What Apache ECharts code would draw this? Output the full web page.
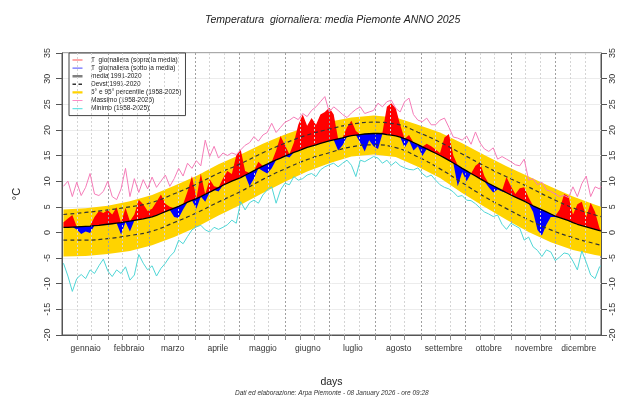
<!DOCTYPE html>
<html>
<head>
<meta charset="utf-8">
<script src="https://cdn.jsdelivr.net/npm/echarts@6/dist/echarts.min.js"></script>
<style>html,body{margin:0;padding:0;background:#fff}#chart{width:640px;height:400px}</style>
</head>
<body>
<div id="chart"></div>
<script>
var mesi = ["gennaio","febbraio","marzo","aprile","maggio","giugno","luglio","agosto","settembre","ottobre","novembre","dicembre"];
var metaMese = [16,45.5,75,105.5,136,166.5,197,228,258.5,289,319.5,350];
var fineMese = [31,59,90,120,151,181,212,243,273,304,334];
var decadi = [10,20,41,51,69,79,100,110,130,140,161,171,191,201,222,232,253,263,283,293,314,324,344,354];

// giorni campionati ogni 3 giorni
var giorni = [];
for (var d = 1; d <= 364; d += 3) giorni.push(d);
giorni.push(365);

var media = [
  1.0,1.0,1.05,1.1,1.15,1.2,1.25,1.35,1.4,1.5,
  1.6,1.7,1.8,1.9,2.05,2.2,2.35,2.5,2.65,2.85,
  3.05,3.35,3.7,4.05,4.4,4.75,5.1,5.5,5.9,6.25,
  6.6,7.0,7.45,7.85,8.3,8.75,9.2,9.6,10.0,10.35,
  10.7,11.15,11.6,12.05,12.5,12.95,13.35,13.75,14.15,14.5,
  14.9,15.25,15.6,15.9,16.25,16.6,16.85,17.1,17.35,17.6,
  17.85,18.05,18.25,18.45,18.7,18.9,19.0,19.1,19.2,19.25,
  19.3,19.3,19.25,19.1,19.0,18.85,18.6,18.3,17.95,17.55,
  17.15,16.7,16.3,15.85,15.45,15.0,14.55,14.05,13.55,13.05,
  12.5,12.0,11.5,11.0,10.5,10.0,9.55,9.1,8.65,8.2,
  7.75,7.3,6.9,6.5,6.1,5.65,5.2,4.8,4.4,4.0,
  3.6,3.2,2.9,2.6,2.3,1.9,1.6,1.35,1.1,0.85,
  0.6,0.35,0.3
];

var tGiorno = [
  2.0,2.7,3.4,0.6,-0.3,0.2,-0.1,3.0,4.2,3.8,
  4.4,3.5,4.9,-0.4,4.8,0.2,3.5,6.4,5.5,4.2,
  4.6,6.0,7.4,5.6,5.0,3.0,2.8,4.5,8.0,11.0,
  4.6,11.5,6.0,10.4,9.0,8.0,10.5,12.0,11.4,15.0,
  16.2,12.0,9.0,10.5,13.8,12.0,11.5,12.5,16.0,18.8,
  17.0,14.6,17.5,21.0,23.0,20.8,22.3,21.0,23.0,23.5,
  24.3,23.0,16.0,17.0,20.5,21.8,19.8,17.5,15.8,18.0,
  16.8,16.3,19.5,24.5,25.2,24.2,21.0,16.5,19.0,16.0,
  16.8,14.9,17.3,16.8,16.2,15.5,18.5,19.2,15.0,9.0,
  11.8,10.0,11.5,13.0,13.7,11.0,8.8,7.8,8.4,8.0,
  10.8,9.0,7.5,8.6,8.8,6.8,4.0,0.5,-0.6,1.5,
  3.0,3.0,4.5,7.5,7.0,3.5,5.5,6.0,3.0,5.8,
  4.0,0.8,0.4
];

var massimo = [
  9.0,10.0,7.0,9.8,7.2,8.8,11.5,7.5,7.2,8.0,
  10.0,7.0,6.4,8.5,12.5,7.0,10.5,7.8,10.3,8.5,
  10.8,8.8,10.0,11.2,9.0,10.5,12.5,11.0,13.5,12.5,
  14.0,13.0,18.0,14.8,16.8,14.5,15.5,15.0,15.5,15.2,
  16.1,17.0,17.5,18.7,17.8,19.0,19.5,21.3,19.5,20.5,
  21.5,21.9,22.5,22.0,23.2,22.6,23.8,24.5,25.5,26.5,
  23.5,24.5,23.8,23.0,22.4,23.3,24.0,24.5,23.2,23.5,
  23.8,25.2,24.5,25.5,25.8,24.2,23.5,25.5,26.2,23.0,
  21.9,21.6,22.3,21.0,21.0,21.9,22.3,20.5,18.6,18.4,
  18.0,18.8,17.2,19.6,17.5,16.3,15.8,16.5,14.3,14.8,
  14.3,13.8,13.2,13.0,14.3,10.2,10.5,9.3,9.8,8.3,
  8.0,7.5,7.0,7.2,6.8,8.9,7.0,9.5,11.0,7.0,
  8.9,8.5,9.0
];

var minimo = [
  -6.0,-8.5,-11.5,-9.0,-8.2,-9.0,-7.3,-8.0,-6.5,-5.2,
  -7.5,-8.6,-7.3,-8.0,-6.7,-9.3,-8.3,-4.3,-6.0,-7.3,
  -6.5,-8.5,-7.0,-6.0,-4.7,-3.8,-1.5,-2.2,-0.8,0.5,
  1.1,1.4,0.5,0.1,1.0,0.6,1.0,1.5,2.4,1.8,
  6.0,4.4,5.8,6.3,5.7,7.3,8.3,8.9,5.7,8.3,
  9.6,9.3,10.9,10.2,10.5,11.2,11.5,10.9,12.2,12.8,
  13.2,13.5,12.8,13.5,14.1,13.1,10.9,14.1,13.8,14.3,
  14.8,14.5,13.5,14.1,13.1,13.8,13.0,12.6,12.3,12.2,
  12.6,11.5,10.8,11.2,10.2,9.3,8.8,8.5,7.9,7.0,
  7.2,6.3,6.2,5.6,4.8,4.0,3.6,3.1,3.4,1.6,
  0.6,1.8,1.3,0.8,-1.5,-0.9,-2.8,-3.5,-4.7,-3.4,
  -3.8,-5.5,-4.8,-4.0,-4.2,-5.6,-7.3,-3.6,-5.8,-8.3,
  -9.0,-6.7,-6.5
];

// climatologia ogni 15 giorni
var giorniClim = [1,16,31,46,61,76,91,106,121,136,151,166,181,196,211,226,241,256,271,286,301,316,331,346,361,365];
var perc95 = [4.5,4.7,5.2,6.1,7.3,9.1,11.0,13.3,15.2,17.3,19.1,20.6,21.6,22.4,22.8,22.4,21.0,19.5,17.4,15.1,12.9,10.9,8.9,7.0,5.4,5.0];
var perc5 = [-4.7,-4.6,-4.2,-3.6,-2.5,-0.9,1.0,3.3,5.4,7.7,9.9,11.9,13.5,14.8,15.2,14.7,12.8,10.6,7.7,5.0,2.5,0.1,-1.9,-3.4,-4.4,-4.6];
var devst = [2.5,2.7,2.8,2.8,2.8,2.8,2.8,2.8,2.7,2.6,2.5,2.4,2.3,2.2,2.2,2.3,2.4,2.6,2.8,3.0,3.1,3.2,3.1,2.9,2.8,2.8];

var nomi = {
  sopra: "T  giornaliera (sopra la media)",
  sotto: "T  giornaliera (sotto la media)",
  media: "media 1991-2020",
  devst: "Devst 1991-2020",
  perc: "5\u00b0 e 95\u00b0 percentile (1958-2025)",
  max: "Massimo (1958-2025)",
  min: "Minimo (1958-2025)"
};

function coppie(xs, ys) {
  return xs.map(function (x, i) { return [x, ys[i]]; });
}

function riempi(nome, xs, alto, basso, colore, z) {
  return {
    type: "custom",
    name: nome,
    z: z,
    silent: true,
    data: [[xs[0], basso[0]]],
    renderItem: function (params, api) {
      var pts = [];
      for (var i = 0; i < xs.length; i++) pts.push(api.coord([xs[i], alto[i]]));
      for (var j = xs.length - 1; j >= 0; j--) pts.push(api.coord([xs[j], basso[j]]));
      return { type: "polygon", shape: { points: pts }, style: { fill: colore } };
    }
  };
}

chartTemp();

function chartTemp() {
  var chart = echarts.init(document.getElementById("chart"));

  var sopra = tGiorno.map(function (v, i) { return Math.max(v, media[i]); });
  var sotto = tGiorno.map(function (v, i) { return Math.min(v, media[i]); });
  var devSu = giorniClim.map(function (g, k) { return media[giorni.indexOf(g)] + devst[k]; });
  var devGiu = giorniClim.map(function (g, k) { return media[giorni.indexOf(g)] - devst[k]; });

  var linee = [];
  fineMese.forEach(function (g) {
    linee.push({ xAxis: g, lineStyle: { color: "#a0a0a0", type: [2, 2], width: 1 } });
  });
  decadi.forEach(function (g) {
    linee.push({ xAxis: g, lineStyle: { color: "#d4d4d4", type: [2, 2], width: 1 } });
  });

  var ancore = " M0,0L0.01,0L0,0.01Z M14,8L13.99,8L14,7.99Z";
  var iconaSottile = "path://M0.5,3.4L10.5,3.4L10.5,4.6L0.5,4.6Z" + ancore;
  var iconaSpessa = "path://M0.5,2.8L10.5,2.8L10.5,5.2L0.5,5.2Z" + ancore;
  var iconaTratto = "path://M0.5,3.3L4,3.3L4,4.7L0.5,4.7Z M6.5,3.3L10,3.3L10,4.7L6.5,4.7Z" + ancore;

  var option = {
    animation: false,
    textStyle: { fontFamily: "Liberation Sans, Arial, sans-serif" },
    title: [{
      text: "Temperatura  giornaliera: media Piemonte ANNO 2025",
      left: 205, top: 15, padding: 0,
      textStyle: { fontSize: 10.5, fontStyle: "italic", fontWeight: "normal", color: "#222" }
    }, {
      text: "Dati ed elaborazione: Arpa Piemonte - 08 January 2026 - ore 09:28",
      left: 235, top: 390, padding: 0,
      textStyle: { fontSize: 6.5, fontStyle: "italic", fontWeight: "normal", color: "#333" }
    }],
    legend: {
      orient: "vertical",
      left: 69, top: 53,
      padding: [3, 4, 3, 3],
      itemWidth: 14, itemHeight: 8, itemGap: 0.1,
      backgroundColor: "#fff",
      borderColor: "#444", borderWidth: 1,
      selectedMode: false,
      textStyle: { fontSize: 6.5, color: "#222" },
      data: [
        { name: nomi.sopra, icon: iconaSottile, itemStyle: { color: "#ff5050" } },
        { name: nomi.sotto, icon: iconaSottile, itemStyle: { color: "#6c6cff" } },
        { name: nomi.media, icon: iconaSpessa, itemStyle: { color: "#808080" } },
        { name: nomi.devst, icon: iconaTratto, itemStyle: { color: "#333" } },
        { name: nomi.perc, icon: iconaSpessa, itemStyle: { color: "#ffd300" } },
        { name: nomi.max, icon: iconaSottile, itemStyle: { color: "#ff8cc6" } },
        { name: nomi.min, icon: iconaSottile, itemStyle: { color: "#6ce4e4" } }
      ]
    },
    grid: { left: 62, right: 39, top: 53, bottom: 65, show: true, borderColor: "#555", borderWidth: 1 },
    xAxis: {
      type: "value", min: 0, max: 365,
      name: "days", nameLocation: "middle", nameGap: 42,
      nameTextStyle: { fontSize: 10.5, color: "#222" },
      axisLine: { onZero: false, lineStyle: { color: "#555" } },
      axisTick: { customValues: fineMese.concat(decadi), length: 5, lineStyle: { color: "#888" } },
      axisLabel: {
        customValues: metaMese, fontSize: 8.5, color: "#333", margin: 9,
        formatter: function (v) { var i = metaMese.indexOf(v); return i >= 0 ? mesi[i] : ""; }
      },
      splitLine: { show: false }
    },
    yAxis: [{
      type: "value", min: -20, max: 35, interval: 5, position: "left",
      name: "\u00b0C", nameLocation: "middle", nameGap: 40,
      nameTextStyle: { fontSize: 11, color: "#222" },
      axisLine: { show: true, onZero: false, lineStyle: { color: "#555" } },
      axisTick: { show: true, length: 6, lineStyle: { color: "#555" } },
      axisLabel: { rotate: 90, fontSize: 9, color: "#333", margin: 10 },
      splitLine: { lineStyle: { color: "#ececec" } }
    }, {
      type: "value", min: -20, max: 35, interval: 5, position: "right",
      axisLine: { show: true, onZero: false, lineStyle: { color: "#555" } },
      axisTick: { show: true, length: 6, lineStyle: { color: "#555" } },
      axisLabel: { rotate: 90, fontSize: 9, color: "#333", margin: 7 },
      splitLine: { show: false }
    }],
    series: [
      {
        type: "line", name: "", data: [], z: 1, silent: true,
        markLine: { silent: true, symbol: ["none", "none"], label: { show: false }, animation: false, data: linee }
      },
      riempi(nomi.perc, giorniClim, perc95, perc5, "#ffd300", 2),
      riempi(nomi.sopra, giorni, sopra, media, "#ff0000", 3),
      riempi(nomi.sotto, giorni, media, sotto, "#0000ff", 3),
      {
        type: "line", name: nomi.devst, z: 4, symbol: "none", smooth: true,
        lineStyle: { color: "#333", width: 1.2, type: [4, 3] },
        data: coppie(giorniClim, devSu)
      },
      {
        type: "line", name: nomi.devst, z: 4, symbol: "none", smooth: true,
        lineStyle: { color: "#333", width: 1.2, type: [4, 3] },
        data: coppie(giorniClim, devGiu)
      },
      {
        type: "line", name: nomi.media, z: 5, symbol: "none",
        lineStyle: { color: "#000", width: 1.3 },
        data: coppie(giorni, media)
      },
      {
        type: "line", name: nomi.max, z: 5, symbol: "none",
        lineStyle: { color: "#f57cb8", width: 1 },
        data: coppie(giorni, massimo)
      },
      {
        type: "line", name: nomi.min, z: 5, symbol: "none",
        lineStyle: { color: "#4fd6d6", width: 1 },
        data: coppie(giorni, minimo)
      }
    ]
  };

  chart.setOption(option);
}
</script>
</body>
</html>
